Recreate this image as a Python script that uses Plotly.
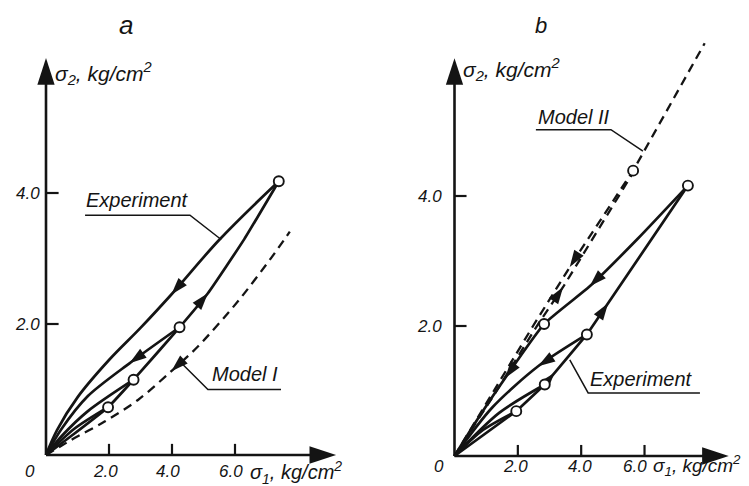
import numpy as np
import plotly.graph_objects as go

# ---------------- data : panel a ----------------
a_load_x = [0, 0.8, 1.97, 2.78, 4.24, 5.14, 6.3, 7.39]
a_load_y = [0, 0.29, 0.73, 1.15, 1.95, 2.47, 3.3, 4.18]
a_unl1_x = [7.39, 5.51, 3.98, 3.0, 2.0, 1.0, 0.35, 0]
a_unl1_y = [4.18, 3.29, 2.45, 1.94, 1.45, 0.88, 0.38, 0]
a_unl2_x = [4.24, 2.65, 1.33, 0.48, 0]
a_unl2_y = [1.95, 1.40, 0.90, 0.39, 0]
a_unl3_x = [2.78, 1.33, 0.5, 0]
a_unl3_y = [1.15, 0.67, 0.29, 0]
a_unl4_x = [1.97, 0.9, 0]
a_unl4_y = [0.73, 0.4, 0]
a_model_x = [0, 0.8, 1.86, 2.92, 3.98, 4.83, 6.1, 7.15, 7.74]
a_model_y = [0, 0.23, 0.51, 0.84, 1.28, 1.66, 2.35, 3.01, 3.41]
a_pts_x = [7.39, 4.24, 2.78, 1.97]
a_pts_y = [4.18, 1.95, 1.15, 0.73]

# ---------------- data : panel b ----------------
b_load_x = [0, 1.95, 2.85, 4.18, 7.37]
b_load_y = [0, 0.69, 1.10, 1.87, 4.16]
b_unl1_x = [7.37, 5.8, 4.27, 2.83, 1.6, 0.6, 0]
b_unl1_y = [4.16, 3.35, 2.61, 2.03, 1.2, 0.47, 0]
b_unl2_x = [4.18, 2.64, 1.2, 0]
b_unl2_y = [1.87, 1.38, 0.75, 0]
b_unl3_x = [2.85, 1.4, 0]
b_unl3_y = [1.10, 0.66, 0]
b_unl4_x = [1.95, 0.9, 0]
b_unl4_y = [0.69, 0.40, 0]
b_model_x = [0, 2.48, 3.85, 5.64, 7.9]
b_model_y = [0, 2.0, 3.07, 4.39, 6.35]
b_model2_x = [0, 1.3, 2.64, 3.43, 5.64]
b_model2_y = [0, 0.98, 2.03, 2.6, 4.36]
b_pts_x = [7.37, 5.64, 2.83, 4.18, 2.85, 1.95]
b_pts_y = [4.16, 4.39, 2.03, 1.87, 1.10, 0.69]

tick_vals = [2, 4, 6]
tick_text = ["2.0", "4.0", "6.0"]
ytick_vals = [2, 4]
ytick_text = ["2.0", "4.0"]

# ---------------- geometry ----------------
W, H = 749, 486
SPLIT = 374
A = dict(x0=38, y0=447, sx=31.5, sy=65.5, left=0, right=SPLIT)
B = dict(x0=446.5, y0=448, sx=31.67, sy=65.0, left=SPLIT, right=W)


def rng(g):
    xr = [(g["left"] - g["x0"]) / g["sx"], (g["right"] - g["x0"]) / g["sx"]]
    yr = [(g["y0"] - H) / g["sy"], g["y0"] / g["sy"]]
    return xr, yr


INK = "#141414"
FONT = "Liberation Sans"
LW = 2.7
fig = go.Figure()


def curve(x, y, xa, ya, dash=None, width=LW, shape="linear", smoothing=0.8):
    fig.add_trace(go.Scatter(
        x=x, y=y, mode="lines", xaxis=xa, yaxis=ya, hoverinfo="skip",
        line=dict(color=INK, width=width, dash=dash, shape=shape, smoothing=smoothing),
        showlegend=False))


def arrows(specs, xa, ya, size=18):
    xs, ys, sz = [], [], []
    for cx, cy, xh, fwd in specs:
        order = np.argsort(cx)
        sx = np.array(cx, float)[order]
        sy = np.array(cy, float)[order]
        yh = float(np.interp(xh, sx, sy))
        xt = xh - 0.3 if fwd else xh + 0.3
        yt = float(np.interp(xt, sx, sy))
        xs += [xt, xh]
        ys += [yt, yh]
        sz += [0, size]
    fig.add_trace(go.Scatter(
        x=xs, y=ys, mode="markers", xaxis=xa, yaxis=ya, hoverinfo="skip",
        marker=dict(symbol="arrow", size=sz, color=INK, opacity=1,
                    angleref="previous", line=dict(width=0)),
        showlegend=False))


def circles(x, y, xa, ya):
    fig.add_trace(go.Scatter(
        x=x, y=y, mode="markers", xaxis=xa, yaxis=ya, hoverinfo="skip",
        marker=dict(symbol="circle", size=10, color="white", opacity=1,
                    line=dict(color=INK, width=1.9)),
        showlegend=False))


def axes(xa, ya, xend, yend, ytl):
    for px, py in (([0, xend], [0, 0]), ([0, 0], [0, yend])):
        fig.add_trace(go.Scatter(
            x=px, y=py, mode="lines+markers", xaxis=xa, yaxis=ya, hoverinfo="skip",
            line=dict(color=INK, width=2.6),
            marker=dict(symbol="arrow", size=[0, 28], color=INK, opacity=1,
                        angleref="previous", line=dict(width=0)),
            showlegend=False))
    tx, ty = [], []
    for t in tick_vals:
        tx += [t, t, None]
        ty += [0, 0.17, None]
    for t in ytick_vals:
        tx += [0, ytl, None]
        ty += [t, t, None]
    fig.add_trace(go.Scatter(x=tx, y=ty, mode="lines", xaxis=xa, yaxis=ya,
                             hoverinfo="skip", line=dict(color=INK, width=2.2),
                             showlegend=False))


def text(s, x, y, xa, ya, size, xanchor="center"):
    fig.add_annotation(text=s, x=x, y=y, xref=xa, yref=ya, showarrow=False,
                       xanchor=xanchor, yanchor="middle",
                       font=dict(family=FONT, size=size, color=INK))


def leader(px, py, xa, ya, width=1.5):
    fig.add_trace(go.Scatter(x=px, y=py, mode="lines", xaxis=xa, yaxis=ya,
                             hoverinfo="skip", line=dict(color=INK, width=width),
                             showlegend=False))


# ---------------- panel a ----------------
xa, ya = "x", "y"
axes(xa, ya, 9.21, 6.06, 0.4)
curve(a_model_x, a_model_y, xa, ya, dash="9px,6px", width=2.3, shape="spline")
curve(a_load_x, a_load_y, xa, ya, shape="spline", smoothing=0.4)
curve(a_unl1_x, a_unl1_y, xa, ya, shape="spline", smoothing=1.0)
curve(a_unl2_x, a_unl2_y, xa, ya, shape="spline")
curve(a_unl3_x, a_unl3_y, xa, ya, shape="spline")
curve(a_unl4_x, a_unl4_y, xa, ya, shape="spline")
arrows([(a_load_x, a_load_y, 5.14, True),
        (a_unl1_x, a_unl1_y, 3.98, False),
        (a_unl2_x, a_unl2_y, 2.65, False),
        (a_model_x, a_model_y, 3.98, False)], xa, ya)
circles(a_pts_x, a_pts_y, xa, ya)
leader([1.24, 4.57, 5.56], [3.66, 3.66, 3.29], xa, ya)
leader([7.46, 5.14, 4.24], [1.0, 1.0, 1.43], xa, ya)
text("<i>Experiment</i>", 2.9, 3.9, xa, ya, 20)
text("<i>Model I</i>", 6.32, 1.23, xa, ya, 20)
text("<i>a</i>", 2.54, 6.56, xa, ya, 26)
text("<i>σ<sub>2</sub>, kg/cm<sup>2</sup></i>", 0.22, 5.82, xa, ya, 21, "left")
text("<i>σ<sub>1</sub>, kg/cm<sup>2</sup></i>", 6.42, -0.26, xa, ya, 20, "left")
text("<i>0</i>", -0.5, -0.25, xa, ya, 17)
for v, t in zip(tick_vals, tick_text):
    text("<i>" + t + "</i>", v - 0.12, -0.25, xa, ya, 17)
for v, t in zip(ytick_vals, ytick_text):
    text("<i>" + t + "</i>", -0.13, v, xa, ya, 17, "right")

# ---------------- panel b ----------------
xb, yb = "x2", "y2"
axes(xb, yb, 8.66, 6.12, 0.38)
curve(b_model_x, b_model_y, xb, yb, dash="9px,6px", width=2.3)
curve(b_model2_x, b_model2_y, xb, yb, dash="9px,6px", width=2.3)
curve(b_load_x, b_load_y, xb, yb)
curve(b_unl1_x, b_unl1_y, xb, yb, shape="spline", smoothing=0.5)
curve(b_unl2_x, b_unl2_y, xb, yb, shape="spline")
curve(b_unl3_x, b_unl3_y, xb, yb, shape="spline")
curve(b_unl4_x, b_unl4_y, xb, yb, shape="spline")
arrows([(b_model_x, b_model_y, 3.64, False),
        (b_model2_x, b_model2_y, 3.43, True),
        (b_unl1_x, b_unl1_y, 4.27, False),
        (b_unl1_x, b_unl1_y, 1.6, False),
        (b_load_x, b_load_y, 4.85, True),
        (b_load_x, b_load_y, 3.16, True),
        (b_unl2_x, b_unl2_y, 2.64, False)], xb, yb)
circles(b_pts_x, b_pts_y, xb, yb)
leader([2.57, 4.94, 5.95], [5.02, 5.02, 4.69], xb, yb)
leader([7.75, 4.22, 3.64], [0.97, 0.97, 1.48], xb, yb)
text("<i>Model II</i>", 3.76, 5.22, xb, yb, 20)
text("<i>Experiment</i>", 5.9, 1.19, xb, yb, 20)
text("<i>b</i>", 2.73, 6.62, xb, yb, 22)
text("<i>σ<sub>2</sub>, kg/cm<sup>2</sup></i>", 0.2, 5.94, xb, yb, 21, "left")
text("<i>σ<sub>1</sub>, kg/cm<sup>2</sup></i>", 6.22, -0.15, xb, yb, 19, "left")
text("<i>0</i>", -0.48, -0.16, xb, yb, 17)
for v, t, off in zip(tick_vals, tick_text, [-0.08, -0.05, -0.3]):
    text("<i>" + t + "</i>", v + off, -0.16, xb, yb, 17)
for v, t in zip(ytick_vals, ytick_text):
    text("<i>" + t + "</i>", -0.33, v, xb, yb, 17, "right")

# ---------------- layout ----------------
axr, ayr = rng(A)
bxr, byr = rng(B)
hidden = dict(visible=False, showgrid=False, zeroline=False, fixedrange=True)
fig.update_layout(
    width=W, height=H, autosize=False,
    margin=dict(l=0, r=0, t=0, b=0),
    paper_bgcolor="white", plot_bgcolor="white",
    xaxis=dict(domain=[0, SPLIT / W], range=axr, anchor="y", **hidden),
    yaxis=dict(domain=[0, 1], range=ayr, anchor="x", **hidden),
    xaxis2=dict(domain=[SPLIT / W, 1], range=bxr, anchor="y2", **hidden),
    yaxis2=dict(domain=[0, 1], range=byr, anchor="x2", **hidden),
    font=dict(family=FONT, color=INK),
)
fig.write_html("out.html")
